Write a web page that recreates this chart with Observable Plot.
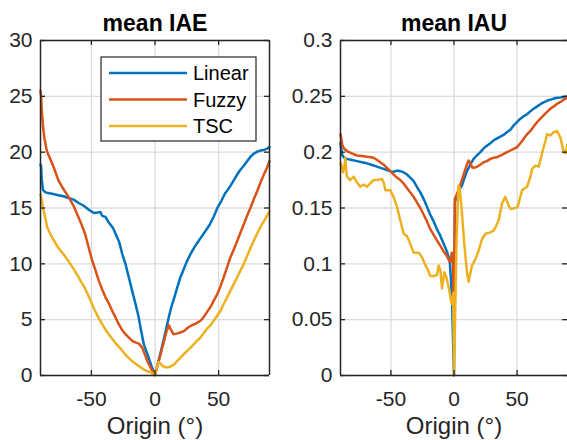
<!DOCTYPE html>
<html><head><meta charset="utf-8">
<script src="https://cdn.jsdelivr.net/npm/d3@7"></script>
<script src="https://cdn.jsdelivr.net/npm/@observablehq/plot@0.6"></script>
<style>
body{margin:0;background:#fff;}
#chart{position:relative;width:567px;height:440px;overflow:hidden;background:#fff;font-family:"Liberation Sans",Arial,sans-serif;}
</style></head><body><div id="chart"></div>
<script>
const seriesNames = ["Linear", "Fuzzy", "TSC"];
const seriesColors = ["#0072BD", "#D95319", "#EDB120"];
const titles = ["mean IAE", "mean IAU"];
const xLabel = "Origin (°)";
const xTicks = [-50, 0, 50];
const iaeTicks = [0, 5, 10, 15, 20, 25, 30];
const iauTicks = [0, 0.05, 0.1, 0.15, 0.2, 0.25, 0.3];

const iaeLinear = [[-90,18.9],[-89.5,18.7],[-89,17.5],[-88,16.6],[-86,16.4],[-84,16.35],[-80,16.25],[-76,16.15],[-72,16.05],[-68,15.9],[-64,15.75],[-60,15.45],[-56,15.2],[-52,14.85],[-48,14.55],[-45,14.6],[-43,14.65],[-41.5,14.3],[-39,14.2],[-36.3,13.7],[-33,13.2],[-31,12.7],[-28,11.9],[-25.8,10.9],[-23,9.9],[-20.6,8.8],[-18,7.6],[-15.3,6.4],[-13,5.3],[-11.4,4.3],[-8.8,2.8],[-5,1.6],[-2,0.6],[0,0.1],[3,1.4],[6,2.8],[9,4.3],[11,5.3],[13,6.2],[15,6.9],[17.5,7.9],[20,8.8],[22.5,9.5],[25,10.2],[28,10.9],[31,11.5],[34,12.0],[37,12.5],[40,13.0],[43,13.5],[46,14.2],[49,15.0],[52,15.6],[55,16.3],[57,16.6],[59.4,17.0],[62,17.5],[64.6,18.0],[67,18.4],[69.9,18.8],[72.5,19.2],[75.1,19.6],[78,19.9],[80.4,20.05],[83,20.15],[85.6,20.2],[88,20.3],[90,20.45]];
const iaeFuzzy = [[-90,25.5],[-89.5,25.0],[-89,23.7],[-88,22.3],[-87,21.3],[-85,20.1],[-82,19.3],[-79.5,18.6],[-76,17.5],[-72,16.7],[-68,16.0],[-64,15.2],[-61,14.4],[-58,13.6],[-55,12.7],[-52,11.4],[-49.4,10.3],[-47,9.5],[-44.2,8.5],[-41.5,7.7],[-38.9,7.0],[-36,6.4],[-33.7,5.8],[-31,5.2],[-28.5,4.6],[-26,4.1],[-23.2,3.7],[-20.5,3.4],[-17.9,3.1],[-15,2.95],[-12.7,2.85],[-10.1,2.5],[-8,1.9],[-6.1,1.3],[-3,0.6],[-0.5,0.1],[0,0.05],[3,1.3],[6,2.6],[9,3.9],[10.9,4.5],[12.5,4.1],[14.5,3.7],[17,3.75],[20,3.85],[23,4.0],[26,4.3],[29,4.5],[32,4.65],[35.8,4.9],[38,5.2],[41,5.7],[44,6.2],[46.2,6.7],[49,7.3],[51.5,8.0],[54,8.8],[56.7,9.7],[59,10.5],[62,11.3],[64.5,12.0],[67.2,12.8],[70,13.6],[72.4,14.3],[75,15.0],[77.7,15.8],[80.3,16.5],[83,17.3],[86,18.1],[88,18.6],[90,19.2]];
const iaeTSC = [[-90,16.2],[-89.5,16.0],[-88,15.0],[-86,14.0],[-84.8,13.3],[-82,12.6],[-79.5,12.1],[-77,11.6],[-74.3,11.2],[-71.5,10.8],[-69,10.4],[-66,9.9],[-63.8,9.5],[-61,9.0],[-58.6,8.5],[-56,8.0],[-54.6,7.7],[-51,6.8],[-48,6.0],[-45,5.3],[-42,4.7],[-38.9,4.1],[-35,3.5],[-31,2.9],[-27,2.4],[-23.2,1.85],[-19,1.4],[-15.3,1.05],[-11.5,0.75],[-7.5,0.45],[-4,0.3],[-2,0.2],[0,0.0],[1.5,0.8],[2.8,1.2],[4,1.1],[6,0.85],[8,0.75],[10.9,0.75],[13,0.85],[15,1.0],[17.5,1.3],[20,1.6],[22.5,1.9],[25.3,2.2],[28,2.5],[30.5,2.8],[33,3.1],[35.8,3.4],[38.4,3.8],[41,4.2],[43.6,4.5],[46.2,4.9],[48.9,5.35],[51.5,5.8],[54,6.4],[56.7,7.0],[59.3,7.6],[62,8.2],[64.6,8.8],[67.2,9.4],[69.8,10.0],[72.4,10.7],[75,11.4],[77.7,12.1],[80.3,12.7],[82.9,13.3],[86,13.9],[88,14.3],[90,14.7]];

const iauLinear = [[-90,0.208],[-89.5,0.204],[-88.5,0.197],[-87,0.195],[-84.9,0.194],[-81,0.193],[-77,0.192],[-73,0.191],[-69,0.190],[-65,0.1885],[-61,0.187],[-57,0.1855],[-53.2,0.184],[-50,0.1828],[-48,0.1825],[-45,0.1835],[-42.6,0.183],[-40,0.182],[-37.3,0.180],[-34.5,0.177],[-32,0.174],[-29.4,0.169],[-26.7,0.164],[-24,0.158],[-21.4,0.151],[-18.8,0.144],[-16.1,0.138],[-13.5,0.131],[-10.8,0.125],[-8.2,0.118],[-5.6,0.111],[-3.4,0.103],[-2.5,0.088],[-1.5,0.066],[-0.5,0.02],[0,0],[0.8,0.155],[2,0.161],[4,0.166],[6.3,0.170],[8,0.176],[10.3,0.183],[13,0.189],[15.6,0.194],[18,0.197],[20.9,0.200],[24,0.204],[28.8,0.208],[32,0.211],[36.8,0.214],[40,0.216],[42.1,0.218],[44.7,0.220],[47.4,0.224],[50,0.227],[52.6,0.230],[55,0.232],[57.9,0.234],[60.5,0.2365],[63.2,0.239],[66,0.241],[68.5,0.243],[71,0.2445],[73.8,0.246],[76.5,0.247],[79.1,0.248],[82,0.2488],[84.4,0.249],[87,0.2495],[90,0.250]];
const iauFuzzy = [[-90,0.216],[-89.5,0.213],[-88.5,0.206],[-87,0.203],[-84.9,0.201],[-81,0.199],[-77,0.197],[-73,0.1965],[-69,0.196],[-66,0.1955],[-63.8,0.195],[-61,0.193],[-58.5,0.191],[-56,0.189],[-53.2,0.186],[-50.5,0.183],[-47.9,0.180],[-45,0.177],[-42.6,0.175],[-40,0.172],[-37.3,0.168],[-34.7,0.164],[-32,0.160],[-29.4,0.155],[-26.7,0.150],[-24,0.144],[-21.4,0.138],[-18.8,0.131],[-16.1,0.126],[-13.5,0.121],[-10.8,0.116],[-8.2,0.111],[-5.6,0.107],[-3.5,0.102],[-2.5,0.102],[-1.8,0.110],[-1.0,0.109],[-0.4,0.072],[0,0.068],[0.7,0.158],[1.5,0.160],[2.5,0.163],[5,0.171],[7.7,0.180],[10.3,0.189],[11.6,0.1925],[13,0.190],[14.3,0.1865],[16,0.186],[18.3,0.187],[21,0.189],[23.5,0.191],[26,0.192],[28.8,0.194],[31.5,0.195],[34.1,0.1955],[36.8,0.197],[39.4,0.1985],[42.1,0.200],[44.7,0.2015],[47.4,0.203],[50,0.2045],[52.6,0.208],[55.3,0.212],[57.9,0.216],[60.6,0.219],[63.2,0.223],[66,0.227],[68.5,0.230],[71,0.233],[73.8,0.236],[76.5,0.239],[79.1,0.241],[82,0.2435],[84.4,0.245],[87,0.247],[90,0.249]];
const iauTSC = [[-90,0.190],[-89.2,0.188],[-88,0.182],[-87,0.186],[-86.2,0.195],[-85.5,0.184],[-84.9,0.178],[-82.3,0.175],[-79.6,0.178],[-77,0.173],[-74.3,0.169],[-71.7,0.171],[-69,0.169],[-66.4,0.172],[-63.8,0.175],[-61.1,0.175],[-57.1,0.176],[-55.5,0.172],[-54.5,0.166],[-50.5,0.166],[-47.9,0.160],[-45.2,0.151],[-42.6,0.139],[-39.9,0.127],[-37.3,0.125],[-34.7,0.118],[-32,0.110],[-28,0.110],[-25.4,0.106],[-22.8,0.099],[-20.5,0.094],[-18.8,0.089],[-16.1,0.089],[-13.5,0.090],[-12.2,0.0985],[-10.8,0.094],[-9.5,0.078],[-7.7,0.0925],[-6.1,0.088],[-4.2,0.079],[-2.4,0.067],[-1.6,0.064],[-0.6,0.074],[0,0],[1,0.06],[2,0.12],[3.5,0.170],[4.5,0.168],[6,0.150],[8,0.120],[10.3,0.092],[11.6,0.084],[13,0.092],[14.3,0.0985],[16.9,0.104],[19.6,0.112],[22.2,0.122],[24.9,0.127],[28.8,0.128],[31.5,0.130],[33.5,0.134],[35.4,0.139],[38.1,0.154],[40.7,0.160],[43.4,0.152],[45.2,0.149],[48.7,0.150],[50.5,0.151],[52.6,0.160],[54,0.166],[57.9,0.169],[60.6,0.178],[61.9,0.185],[64.6,0.188],[67.2,0.187],[69.8,0.199],[72.5,0.210],[73.8,0.216],[76.5,0.215],[79.1,0.218],[81.7,0.219],[84.4,0.213],[87,0.200],[88.4,0.199],[90,0.207]];

const ink = "#262626", gridColor = "#dcdcdc";
const H = 440, MT = 40, MB = 65;
const FONT = "'Liberation Sans', Arial, sans-serif";

function rowsOf(list) {
  return list.flatMap((pts, i) => pts.map(([x, y]) => ({series: seriesNames[i], x, y})));
}

function panel({series, yDomain, yTicks, title, width, marginLeft, marginRight, rightEdge}) {
  const ph = H - MT - MB;
  const pw = width - marginLeft - marginRight;
  const fmt = d => String(d);
  const marks = [
    Plot.gridX(xTicks, {stroke: gridColor, strokeOpacity: 1, strokeWidth: 1.3}),
    Plot.gridY(yTicks, {stroke: gridColor, strokeOpacity: 1, strokeWidth: 1.3}),
    Plot.line(rowsOf(series), {x: "x", y: "y", z: "series", stroke: "series", strokeWidth: 2.5}),
    Plot.tickX(xTicks, {x: d => d, insetTop: ph - 5, stroke: ink, strokeWidth: 1.3}),
    Plot.tickX(xTicks, {x: d => d, insetBottom: ph - 5, stroke: ink, strokeWidth: 1.3}),
    Plot.tickY(yTicks, {y: d => d, insetRight: pw - 5, stroke: ink, strokeWidth: 1.3}),
    Plot.tickY(yTicks, {y: d => d, insetLeft: pw - 5, stroke: ink, strokeWidth: 1.3}),
    Plot.axisX(xTicks, {tickSize: 0, tickPadding: 16, tickFormat: fmt, label: null, fontSize: 21}),
    Plot.axisY(yTicks, {tickSize: 0, tickPadding: 8, tickFormat: fmt, label: null, fontSize: 21}),
    Plot.ruleY(yDomain, {stroke: ink, strokeWidth: 1.5}),
    Plot.ruleX(rightEdge ? [-90, 90] : [-90], {stroke: ink, strokeWidth: 1.5}),
    Plot.text([title], {frameAnchor: "top", dy: -10, lineAnchor: "bottom", fontWeight: "bold", fontSize: 23, fill: "black"}),
    Plot.text([xLabel], {frameAnchor: "bottom", dy: 58, lineAnchor: "bottom", fontSize: 24, fill: ink})
  ];
  return Plot.plot({
    width, height: H, marginTop: MT, marginBottom: MB, marginLeft, marginRight,
    style: {fontFamily: FONT, color: ink, background: "transparent", overflow: "visible"},
    x: {domain: [-90, 90], axis: null},
    y: {domain: yDomain, axis: null},
    color: {domain: seriesNames, range: seriesColors},
    marks
  });
}

const chart = document.getElementById("chart");
const left = panel({series: [iaeLinear, iaeFuzzy, iaeTSC], yDomain: [0, 30], yTicks: iaeTicks, title: titles[0], width: 283, marginLeft: 40, marginRight: 14, rightEdge: true});
left.style.position = "absolute"; left.style.left = "0px"; left.style.top = "0px";
chart.appendChild(left);
const right = panel({series: [iauLinear, iauFuzzy, iauTSC], yDomain: [0, 0.3], yTicks: iauTicks, title: titles[1], width: 284, marginLeft: 57, marginRight: 0, rightEdge: false});
right.style.position = "absolute"; right.style.left = "283px"; right.style.top = "0px";
chart.appendChild(right);

// legend inside the left axes
const NS = "http://www.w3.org/2000/svg";
const leg = document.createElementNS(NS, "svg");
leg.setAttribute("width", 157); leg.setAttribute("height", 86);
leg.style.position = "absolute"; leg.style.left = "100px"; leg.style.top = "56px";
const box = document.createElementNS(NS, "rect");
Object.entries({x: 1, y: 1, width: 155, height: 84, fill: "white", stroke: ink, "stroke-width": 1.2}).forEach(([k, v]) => box.setAttribute(k, v));
leg.appendChild(box);
seriesNames.forEach((name, i) => {
  const cy = 17 + i * 26.5;
  const ln = document.createElementNS(NS, "line");
  Object.entries({x1: 9, x2: 87, y1: cy, y2: cy, stroke: seriesColors[i], "stroke-width": 2.5}).forEach(([k, v]) => ln.setAttribute(k, v));
  leg.appendChild(ln);
  const tx = document.createElementNS(NS, "text");
  Object.entries({x: 93, y: cy, dy: "0.36em", fill: "black", "font-size": 20, "font-family": FONT}).forEach(([k, v]) => tx.setAttribute(k, v));
  tx.textContent = name;
  leg.appendChild(tx);
});
chart.appendChild(leg);
</script>
</body></html>
